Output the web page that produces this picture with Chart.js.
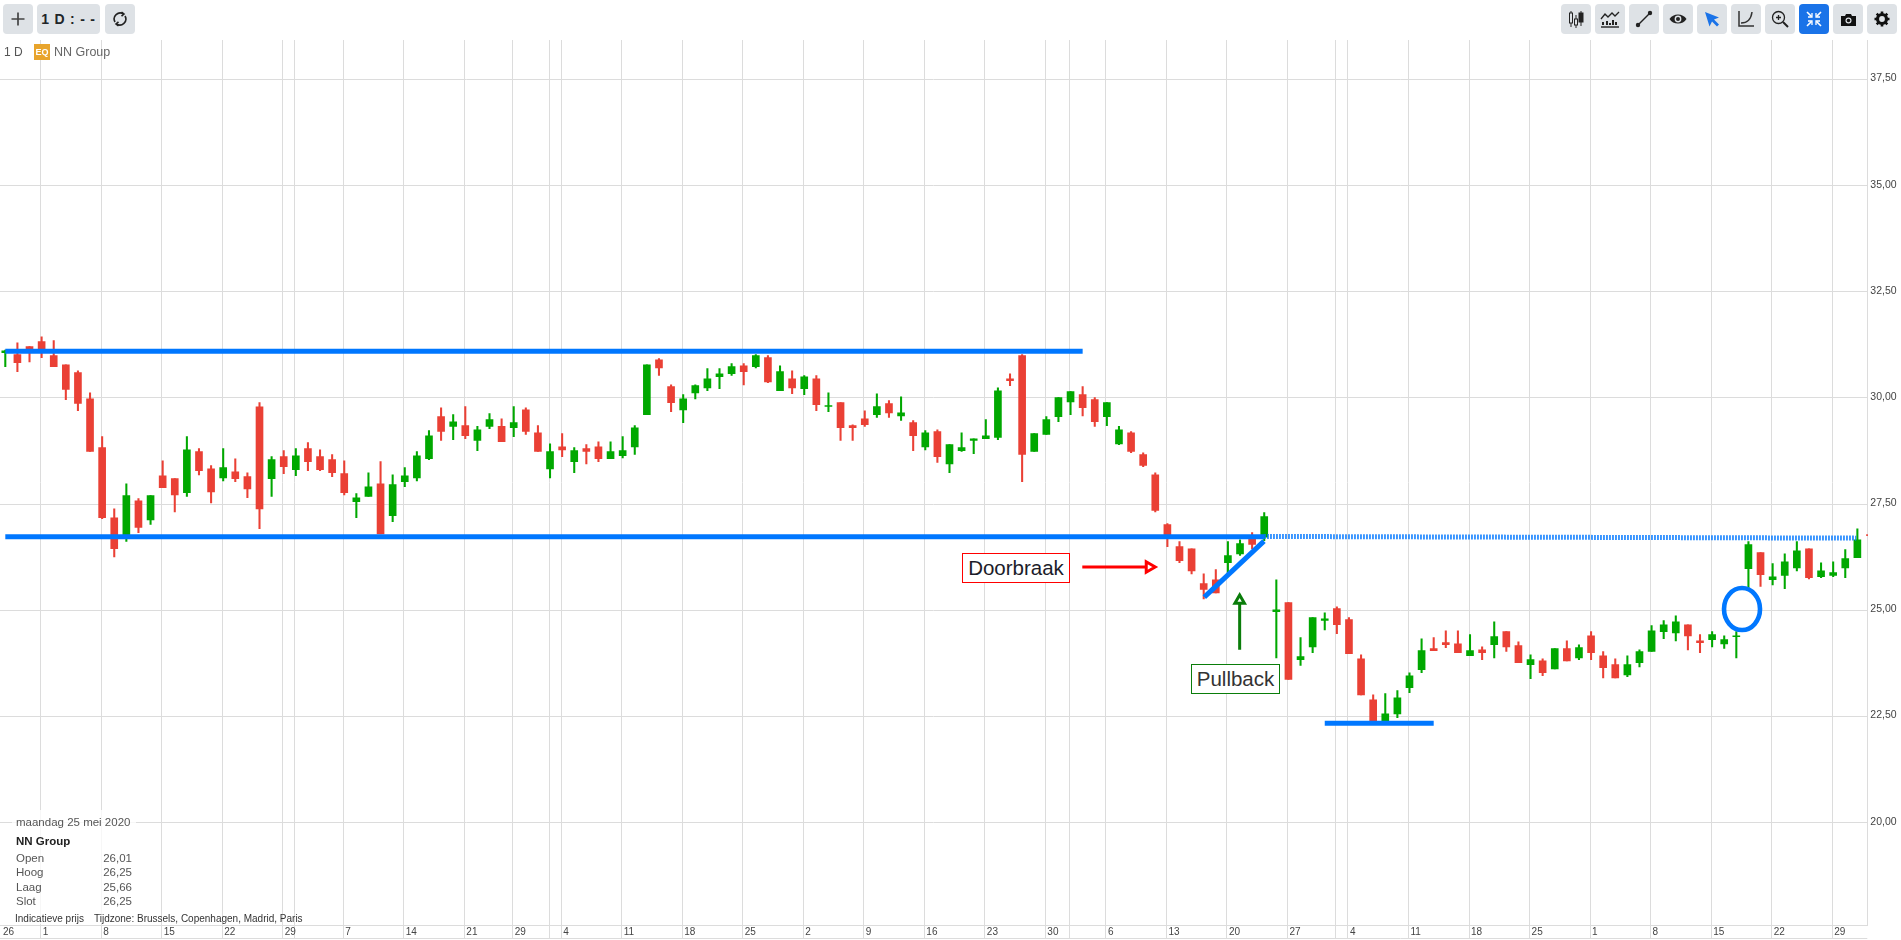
<!DOCTYPE html>
<html><head><meta charset="utf-8">
<script src="https://cdn.jsdelivr.net/npm/chart.js@4/dist/chart.umd.min.js"></script>
<style>
html,body{margin:0;padding:0;background:#fff;width:1901px;height:940px;overflow:hidden;font-family:"Liberation Sans",Arial,sans-serif}
#wrap{position:relative;width:1901px;height:940px}
canvas{position:absolute;left:0;top:0}
.btn{position:absolute;top:4px;height:30px;background:#dee2e6;border-radius:4px;display:flex;align-items:center;justify-content:center;color:#212529}
.btn svg{display:block}
.t{position:absolute;white-space:nowrap;line-height:1}
.note{position:absolute;box-sizing:border-box;height:30px;background:#fff;display:flex;align-items:center;justify-content:center;font-size:20.5px;color:#1c1c2a}
</style></head><body>
<div id="wrap">
<canvas id="c" width="1901" height="940" style="width:1901px;height:940px"></canvas>

<div class="btn" style="left:3px;width:30px"><svg width="16" height="16" viewBox="0 0 16 16"><path d="M8 1.5v13M1.5 8h13" stroke="#444" stroke-width="1.7"/></svg></div>
<div class="btn" style="left:37px;width:63px;font-size:14px;font-weight:bold;letter-spacing:0.8px">1 D : - -</div>
<div class="btn" style="left:105px;width:30px"><svg width="16" height="16" viewBox="0 0 16 16" fill="none" stroke="#222" stroke-width="1.6"><path d="M3 11A6 6 0 0 1 11.5 3M13 5A6 6 0 0 1 4.5 13"/><path d="M9.5 1l2.5 2-2.5 2.2M6.5 15l-2.5-2 2.5-2.2" /></svg></div>

<div class="btn" style="left:1561px;width:30px"><svg width="16" height="18" viewBox="0 0 16 18" stroke="#222" fill="none"><path d="M3 1v16M8 5v13M13 1v15"/><rect x="1.5" y="3" width="3" height="10" fill="#dee2e6"/><rect x="6.5" y="9" width="3" height="6" fill="#dee2e6"/><rect x="11" y="3" width="4" height="9" fill="#222"/></svg></div>
<div class="btn" style="left:1595px;width:30px"><svg width="20" height="18" viewBox="0 0 20 18" stroke="#222" fill="none"><path d="M1 9l4-5 3 3 4-4 3 3 4-4" stroke-width="1.3"/><path d="M1 17h18" stroke-width="1.4"/><path d="M3 15v-3M7 15v-4M10 15v-2M13 15v-5M16 15v-3" stroke-width="2"/></svg></div>
<div class="btn" style="left:1629px;width:30px"><svg width="18" height="18" viewBox="0 0 18 18"><path d="M3 15L15 3" stroke="#222" stroke-width="1.4"/><circle cx="3" cy="15" r="2.2" fill="#222"/><circle cx="15" cy="3" r="2.2" fill="#222"/></svg></div>
<div class="btn" style="left:1663px;width:30px"><svg width="18" height="12" viewBox="0 0 18 12"><path d="M0.5 6C4 0 14 0 17.500 6 14 12 4 12 0.500 6Z" fill="#222"/><circle cx="9" cy="6" r="3.4" fill="#dee2e6"/><circle cx="9" cy="6" r="2" fill="#222"/></svg></div>
<div class="btn" style="left:1697px;width:30px"><svg width="16" height="16" viewBox="0 0 16 16"><path d="M1 1l14 5.500-5 2 5 5-2 2-5-5-2.500 5Z" fill="#1a73e8"/></svg></div>
<div class="btn" style="left:1731px;width:30px"><svg width="18" height="18" viewBox="0 0 18 18" fill="none" stroke="#333" stroke-width="1.5"><path d="M2 1v15h15"/><path d="M4 13c6 0 10-3 11-11"/></svg></div>
<div class="btn" style="left:1765px;width:30px"><svg width="18" height="18" viewBox="0 0 18 18" fill="none" stroke="#222" stroke-width="1.3"><circle cx="7.500" cy="7.500" r="6"/><path d="M7.500 5v5M5 7.500h5"/><path d="M12 12l5 5" stroke-width="2"/></svg></div>
<div class="btn" style="left:1799px;width:30px;background:#1a73e8"><svg width="16" height="16" viewBox="0 0 16 16" fill="none" stroke="#fff" stroke-width="1.600"><path d="M1 1l4.500 4.500M15 1l-4.500 4.500M1 15l4.500-4.500M15 15l-4.500-4.500"/><path d="M2 6h4V2M14 6h-4V2M2 10h4v4M14 10h-4v4" stroke-width="1.300"/></svg></div>
<div class="btn" style="left:1833px;width:30px"><svg width="15" height="13" viewBox="0 0 15 13"><path d="M0 3h4l1-2h5l1 2h4v10H0Z" fill="#111"/><circle cx="7.500" cy="7.500" r="3" fill="#dee2e6"/><circle cx="7.500" cy="7.500" r="1.800" fill="#111"/></svg></div>
<div class="btn" style="left:1867px;width:30px"><svg width="16" height="16" viewBox="0 0 16 16"><circle cx="8" cy="8" r="4.500" fill="none" stroke="#111" stroke-width="3.200"/><path d="M8 0.500v3M8 12.500v3M0.500 8h3M12.500 8h3M2.700 2.700l2.100 2.100M11.200 11.200l2.100 2.100M13.300 2.700l-2.100 2.100M4.800 11.200l-2.100 2.100" stroke="#111" stroke-width="2.600"/></svg></div>

<div class="t" style="left:4px;top:46px;font-size:12px;color:#555">1 D</div>
<div style="position:absolute;left:34px;top:44px;width:16px;height:16px;background:#e8a42c;color:#fff;font-size:9px;font-weight:bold;text-align:center;line-height:16px">EQ</div>
<div class="t" style="left:54px;top:46px;font-size:12.500px;color:#666">NN Group</div>

<div style="position:absolute;left:12px;top:810px;width:124px;height:114px;background:rgba(255,255,255,.78)"></div>
<div class="t" style="left:16px;top:817px;font-size:11.500px;color:#555">maandag 25 mei 2020</div>
<div class="t" style="left:16px;top:836px;font-size:11.500px;font-weight:bold;color:#222">NN Group</div>
<div class="t" style="left:16px;top:853px;font-size:11.500px;color:#555">Open</div><div class="t" style="right:1769px;top:853px;font-size:11.500px;color:#555">26,01</div>
<div class="t" style="left:16px;top:867px;font-size:11.500px;color:#555">Hoog</div><div class="t" style="right:1769px;top:867px;font-size:11.500px;color:#555">26,25</div>
<div class="t" style="left:16px;top:882px;font-size:11.500px;color:#555">Laag</div><div class="t" style="right:1769px;top:882px;font-size:11.500px;color:#555">25,66</div>
<div class="t" style="left:16px;top:896px;font-size:11.500px;color:#555">Slot</div><div class="t" style="right:1769px;top:896px;font-size:11.500px;color:#555">26,25</div>
<div class="t" style="left:15px;top:914px;font-size:10px;color:#333">Indicatieve prijs</div>
<div class="t" style="left:94px;top:914px;font-size:10px;color:#333">Tijdzone: Brussels, Copenhagen, Madrid, Paris</div>

<div class="note" style="left:962px;top:553px;width:108px;border:1px solid #f00">Doorbraak</div>
<div class="note" style="left:1191px;top:664px;width:89px;border:1px solid #0a7d0a;color:#333">Pullback</div>
</div>
<script>
// Candles, oldest first
const opens=[31.07,31.02,31.21,31.33,31.00,30.78,30.60,29.98,28.83,27.18,26.76,27.58,27.13,28.17,28.10,27.77,28.74,28.33,28.12,28.26,28.15,29.79,28.10,28.62,28.31,28.81,28.62,
28.55,28.22,27.56,27.68,27.98,27.23,28.03,28.12,28.57,29.56,29.33,29.35,29.00,29.33,29.33,29.30,29.72,29.18,28.33,28.85,28.50,28.81,28.85,28.57,28.64,28.85,29.61,
30.90,30.27,29.72,30.12,30.24,30.50,30.57,30.76,30.74,30.95,30.17,30.45,30.22,30.45,29.80,29.89,29.35,29.51,29.61,29.87,29.58,29.42,28.85,29.21,28.45,28.76,
29.00,29.04,29.07,30.45,31.00,28.74,29.14,29.56,29.91,30.08,29.96,29.56,28.92,29.18,28.67,28.19,27.02,26.50,26.45,25.63,25.72,26.12,26.33,26.72,26.72,
24.97,25.18,23.84,24.14,24.76,25.04,24.78,23.86,22.89,22.32,22.56,23.18,23.60,24.10,24.24,24.21,23.93,24.07,24.19,24.50,24.17,23.72,23.81,23.62,24.10,23.88,24.40,
23.93,23.72,23.48,23.77,24.03,24.50,24.47,24.66,24.28,24.31,24.21,24.38,25.98,26.36,25.72,25.82,26.00,26.45,25.79,25.82,26.00,26.24];
const highs=[31.13,31.30,31.21,31.44,31.35,30.78,30.64,30.12,29.09,27.39,27.98,27.63,27.70,28.52,28.10,29.09,28.81,28.41,28.81,28.57,28.24,29.89,28.62,28.76,28.81,28.95,28.78,
28.67,28.52,27.75,28.24,28.50,28.19,28.36,28.74,29.23,29.77,29.61,29.80,29.33,29.63,29.51,29.80,29.77,29.35,28.92,29.16,28.83,28.90,28.97,28.97,29.09,29.35,30.78,
30.93,30.31,30.08,30.31,30.69,30.69,30.81,30.81,31.02,31.00,30.76,30.64,30.53,30.53,30.12,29.89,29.37,29.70,30.10,29.94,30.03,29.47,29.23,29.25,28.90,29.18,
29.04,29.49,30.24,30.57,31.02,29.16,29.56,30.01,30.15,30.27,30.01,29.89,29.33,29.21,28.71,28.24,27.04,26.62,26.45,25.86,25.96,26.62,26.66,26.83,27.30,
25.72,25.18,24.36,24.83,24.94,25.08,24.83,23.95,23.01,23.04,23.11,23.53,24.33,24.36,24.52,24.52,24.43,24.14,24.73,24.50,24.26,23.95,23.86,24.10,24.28,24.19,24.50,
24.03,23.86,23.93,24.07,24.64,24.76,24.87,24.66,24.43,24.50,24.40,24.50,26.62,26.36,26.10,26.33,26.62,26.45,26.12,26.14,26.43,26.92];
const lows=[30.74,30.62,30.85,30.95,30.74,29.96,29.70,28.74,27.16,26.26,26.62,26.83,27.02,27.89,27.32,27.68,28.19,27.53,28.05,28.03,27.65,26.92,27.68,28.22,28.17,28.29,28.29,
28.15,27.72,27.18,27.68,26.80,27.09,27.91,28.05,28.55,29.00,29.02,29.04,28.76,29.28,28.97,29.09,29.14,28.74,28.12,28.62,28.24,28.45,28.50,28.57,28.59,28.67,29.61,
30.53,29.68,29.42,29.98,30.17,30.22,30.53,30.31,30.71,30.36,30.17,30.10,30.08,29.70,29.68,29.00,29.00,29.33,29.54,29.54,29.47,28.76,28.78,28.48,28.24,28.74,
28.69,29.04,29.02,30.29,28.03,28.74,29.14,29.44,29.61,29.58,29.33,29.35,28.90,28.71,28.38,27.32,26.50,26.12,25.86,25.27,25.41,25.85,26.29,26.45,26.64,
23.88,23.37,23.70,24.00,24.54,24.45,23.98,23.01,22.32,22.32,22.47,23.06,23.53,24.05,24.12,24.00,23.93,23.84,23.88,24.03,23.77,23.39,23.46,23.62,23.81,23.84,23.84,
23.41,23.41,23.44,23.67,24.03,24.33,24.28,24.07,24.00,24.14,24.10,23.88,25.53,25.56,25.60,25.51,25.93,25.74,25.77,25.79,25.77,26.24];
const closes=[31.11,30.83,31.10,31.11,30.74,30.20,29.87,28.74,27.18,26.45,27.70,26.95,27.70,27.89,27.72,28.78,28.29,27.79,28.36,28.10,27.86,27.39,28.55,28.38,28.64,28.50,28.31,
28.24,27.77,27.65,27.91,26.80,27.96,28.17,28.64,29.11,29.21,29.44,29.11,29.25,29.49,28.97,29.42,29.21,28.74,28.74,28.78,28.76,28.74,28.57,28.74,28.76,29.30,30.78,
30.71,29.89,29.98,30.29,30.45,30.57,30.74,30.62,31.00,30.38,30.62,30.24,30.50,29.84,29.82,29.30,29.30,29.37,29.80,29.65,29.65,29.11,29.18,28.62,28.90,28.83,
29.04,29.11,30.17,30.41,28.67,29.16,29.49,30.01,30.15,29.77,29.44,29.89,29.25,28.74,28.41,27.35,26.72,26.17,25.93,25.49,25.41,26.29,26.57,26.55,27.21,
25.01,23.37,23.91,24.83,24.80,24.66,23.98,23.01,22.32,22.56,22.94,23.46,24.05,24.05,24.19,24.00,24.05,24.00,24.38,24.14,23.77,23.84,23.53,24.10,23.81,24.12,24.00,
23.65,23.41,23.72,24.03,24.52,24.66,24.73,24.40,24.24,24.43,24.31,24.40,26.55,25.84,25.79,26.14,26.40,25.77,25.93,25.89,26.22,26.66];

// Vertical grid positions (candle index) and their date labels
const gridDays=[-0.36,3,8,13,18,23,24,28,33,38,42,45,46,51,56,61,66,71,76,81,86,88,91,96,101,106,110,111,116,121,126,131,136,141,146,151];
const dayLabels=['26','1','8','15','22','29','','7','14','21','29','','4','11','18','25','2','9','16','23','30','','6','13','20','27','','4','11','18','25','1','8','15','22','29'];
const priceTicks=[20,22.5,25,27.5,30,32.5,35,37.5];

// Hand-drawn annotations, in chart units [index, price]
const resistanceLine=[[0,31.10],[89,31.10]];
const supportLine=[[0,26.73],[104,26.73]];
const supportExtension=[[104,26.74],[152.9,26.70]];
const pullbackLine=[[99.05,25.31],[103.98,26.63]];
const bottomLine=[[109,22.34],[118,22.34]];
const breakoutArrow=[[88.97,26.02],[94.5,26.02]];
const pullbackArrow=[[101.97,24.07],[101.97,25.23]];
const ringCenter=[143.47,25.03];
const lastPriceMark=[[153.8,26.77]];

const UP='#00a800',DOWN='#ea4035',BLUE='#0077ff',GRID='#dcdcdc';
const idx=opens.map((_,i)=>i);
const candleColor=idx.map(i=>closes[i]>=opens[i]?UP:DOWN);
const toPts=a=>a.map(p=>({x:p[0],y:p[1]}));
const line=(data,extra)=>Object.assign({type:'line',data:toPts(data),borderColor:BLUE,borderWidth:5,pointRadius:0,borderCapStyle:'butt',fill:false,order:1},extra||{});
const barBase={grouped:false,barPercentage:1,categoryPercentage:1,borderWidth:0};

const ringPlugin={id:'ring',afterDatasetsDraw(ch){
  const c=ch.ctx,x=ch.scales.x.getPixelForValue(ringCenter[0]),y=ch.scales.y.getPixelForValue(ringCenter[1]);
  c.save();c.strokeStyle=BLUE;c.lineWidth=4.6;c.beginPath();c.ellipse(x,y,18,21,0,0,Math.PI*2);c.stroke();c.restore();
}};
const footLine={id:'footLine',afterDraw(ch){
  const c=ch.ctx;c.save();c.strokeStyle=GRID;c.lineWidth=1;c.beginPath();c.moveTo(0,938.5);c.lineTo(ch.chartArea.right,938.5);c.stroke();c.restore();
}};

new Chart(document.getElementById('c'),{
  type:'bar',
  data:{datasets:[
    Object.assign({label:'wick',data:idx.map(i=>({x:i,y:[lows[i],highs[i]]})),backgroundColor:candleColor,barThickness:1.4,maxBarThickness:1.4,order:6},barBase),
    Object.assign({label:'body',data:idx.map(i=>({x:i,y:[opens[i],closes[i]]})),backgroundColor:candleColor,barThickness:7,maxBarThickness:7,order:5},barBase),
    line(resistanceLine),line(supportLine),
    line(supportExtension,{borderDash:[1.5,1.5],borderWidth:5}),
    line(pullbackLine),line(bottomLine),
    line(breakoutArrow,{borderColor:'#f00',borderWidth:3,pointRadius:[0,6],pointStyle:'triangle',pointRotation:90,pointBackgroundColor:'#fff',pointBorderColor:'#f00',pointBorderWidth:3,order:0}),
    line(pullbackArrow,{borderColor:'#0a7d0a',borderWidth:3,pointRadius:[0,5.5],pointStyle:'triangle',pointBackgroundColor:'#fff',pointBorderColor:'#0a7d0a',pointBorderWidth:3,order:0}),
    {type:'scatter',data:toPts(lastPriceMark),pointStyle:'rect',pointRadius:1.2,pointBackgroundColor:DOWN,pointBorderWidth:0,clip:false,order:0}
  ]},
  options:{
    responsive:false,animation:false,events:[],
    layout:{autoPadding:false,padding:{top:40,left:0,right:0,bottom:0}},
    plugins:{legend:{display:false},tooltip:{enabled:false}},
    scales:{
      x:{type:'linear',offset:false,bounds:'data',min:-0.438,max:153.82,
        grid:{offset:false,color:c=>c.tick&&c.tick.value<0?'rgba(0,0,0,0)':GRID,lineWidth:1,drawTicks:true,tickLength:13,tickColor:c=>c.tick&&c.tick.value<0?'rgba(0,0,0,0)':GRID},
        border:{display:true,color:GRID},
        afterBuildTicks:s=>{s.ticks=gridDays.map(v=>({value:v-(v>=0?0.08:0)}));},
        afterFit:s=>{s.height=15;s.paddingLeft=0;s.paddingRight=0;},
        ticks:{autoSkip:false,maxRotation:0,minRotation:0,align:'start',labelOffset:2,padding:-12,color:'#444',font:{family:'"Liberation Sans"',size:10},
          callback:(v,i)=>dayLabels[i]}
      },
      y:{type:'linear',position:'right',bounds:'data',min:17.59,max:38.43,
        grid:{color:GRID,lineWidth:1,drawTicks:false},
        border:{display:true,color:GRID},
        afterBuildTicks:s=>{s.ticks=priceTicks.map(v=>({value:v}));},
        afterFit:s=>{s.width=33.7;s.paddingTop=0;s.paddingBottom=0;},
        ticks:{autoSkip:false,padding:3,labelOffset:-1,color:'#444',font:{family:'"Liberation Sans"',size:10.5},
          callback:v=>v.toFixed(2).replace('.',',')}
      }
    }
  },
  plugins:[ringPlugin,footLine]
});
</script>
</body></html>
